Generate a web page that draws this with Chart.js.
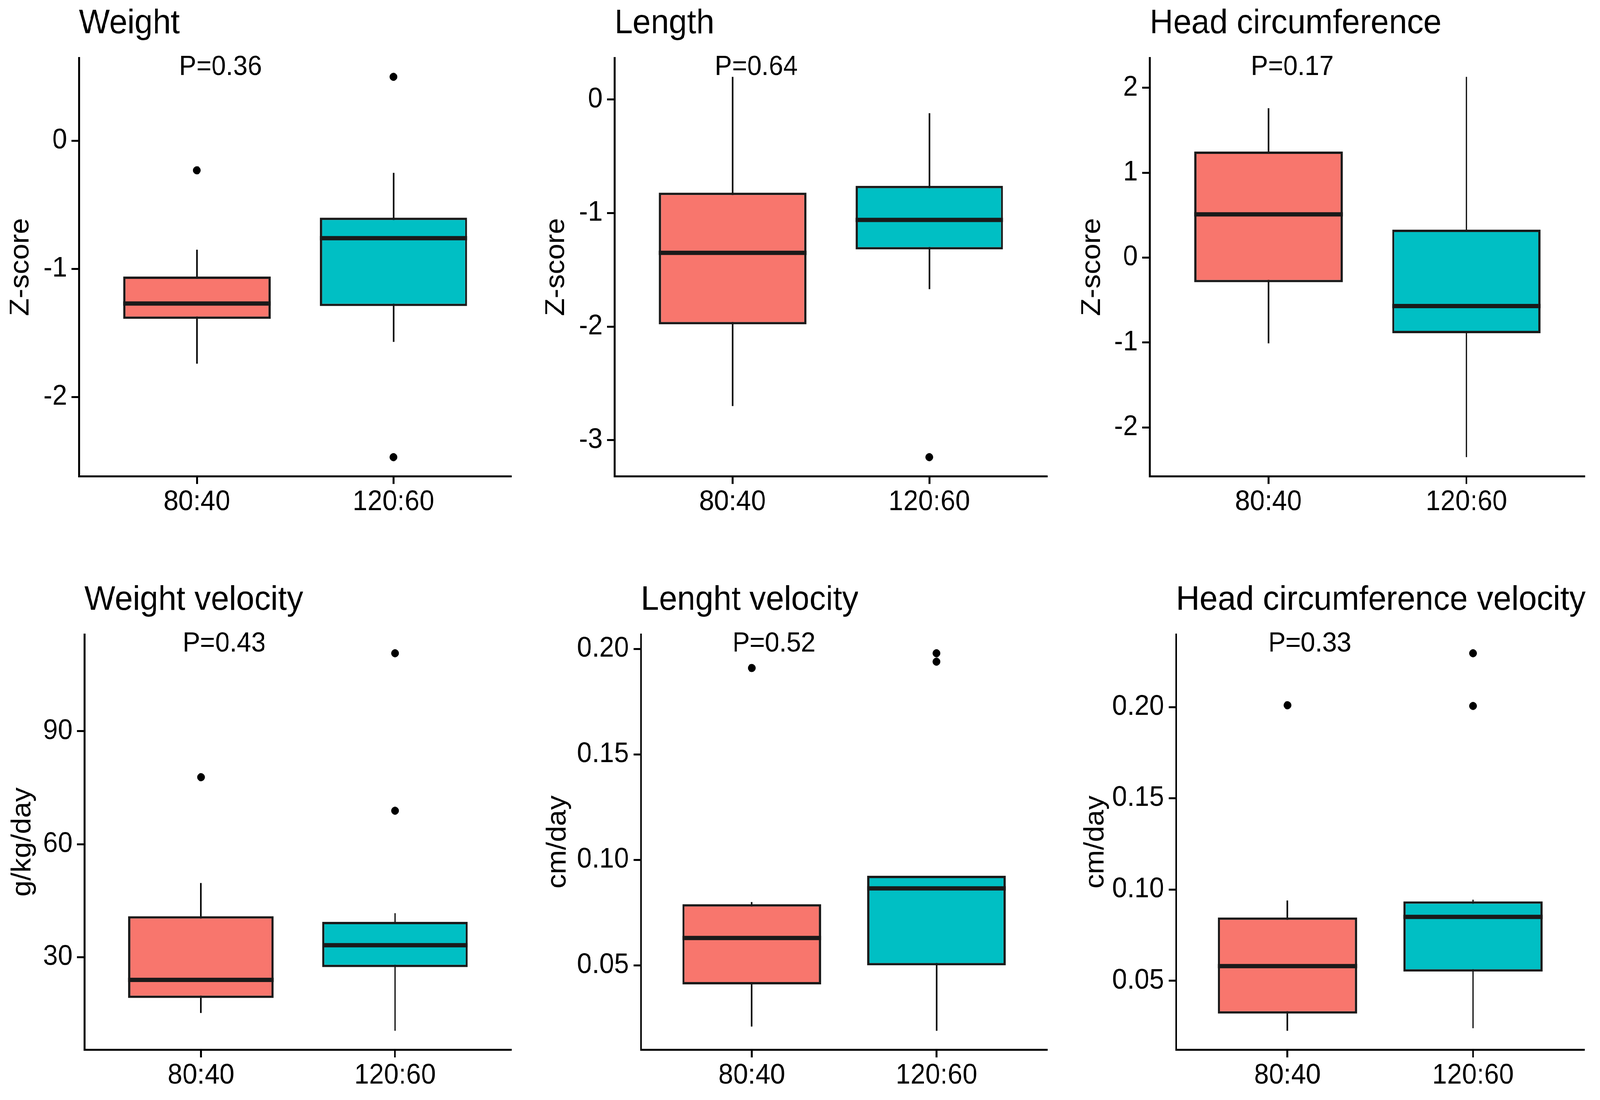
<!DOCTYPE html>
<html>
<head>
<meta charset="utf-8">
<script src="https://cdn.jsdelivr.net/npm/chart.js@4.4.1/dist/chart.umd.min.js"></script>
<style>
  html, body { margin: 0; padding: 0; background: #fff; overflow: hidden; }
  #page { position: absolute; left: 0; top: 0; width: 4317px; height: 2816px; transform-origin: 0 0; }
  canvas { position: absolute; }
</style>
</head>
<body>
<div id="page">
<canvas id="c0"></canvas>
<canvas id="c1"></canvas>
<canvas id="c2"></canvas>
<canvas id="c3"></canvas>
<canvas id="c4"></canvas>
<canvas id="c5"></canvas>
</div>
<script>
// groups on the x axis
const groups = ["80:40", "120:60"];

const titles = [
  "Weight",
  "Length",
  "Head circumference",
  "Weight velocity",
  "Lenght velocity",
  "Head circumference velocity",
];
const pLabels = ["P=0.36", "P=0.64", "P=0.17", "P=0.43", "P=0.52", "P=0.33"];
const yTitles = ["Z-score", "Z-score", "Z-score", "g/kg/day", "cm/day", "cm/day"];

// [low whisker, Q1, median, Q3, high whisker] per group
const weightBox = [[-1.74, -1.39, -1.27, -1.06, -0.85], [-1.57, -1.29, -0.76, -0.6, -0.25]];
const weightOut = [[-0.23], [0.5, -2.47]];
const weightTicks = [-2, -1, 0];

const lengthBox = [[-2.7, -1.98, -1.35, -0.82, 0.2], [-1.67, -1.32, -1.06, -0.76, -0.12]];
const lengthOut = [[], [-3.15]];
const lengthTicks = [-3, -2, -1, 0];

const headBox = [[-1.01, -0.29, 0.51, 1.25, 1.76], [-2.35, -0.89, -0.57, 0.33, 2.13]];
const headOut = [[], []];
const headTicks = [-2, -1, 0, 1, 2];

const weightVelBox = [[15.2, 19.2, 24.0, 40.9, 49.7], [10.5, 27.4, 33.2, 39.4, 41.7]];
const weightVelOut = [[77.8], [110.7, 68.9]];
const weightVelTicks = [30, 60, 90];

const lengthVelBox = [[0.021, 0.041, 0.063, 0.079, 0.08], [0.019, 0.05, 0.0865, 0.0925, 0.0925]];
const lengthVelOut = [[0.191], [0.198, 0.194]];
const lengthVelTicks = [0.05, 0.1, 0.15, 0.2];

const headVelBox = [[0.0226, 0.032, 0.058, 0.0847, 0.094], [0.024, 0.055, 0.085, 0.0935, 0.0944]];
const headVelOut = [[0.201], [0.2295, 0.2006]];
const headVelTicks = [0.05, 0.1, 0.15, 0.2];

const fills = ["#F8766D", "#00BFC4"];

// canvas placement (page pixels) and fixed y-axis width
const panelPos = [
  { left: 12, top: 0, width: 1379, height: 1339, yw: 201, padTop: 148 },
  { left: 1457, top: 0, width: 1380, height: 1339, yw: 201, padTop: 148 },
  { left: 2903, top: 0, width: 1374, height: 1339, yw: 199, padTop: 148 },
  { left: 17, top: 1400, width: 1374, height: 1407, yw: 211, padTop: 224 },
  { left: 1461, top: 1400, width: 1376, height: 1407, yw: 268, padTop: 224 },
  { left: 2912, top: 1400, width: 1374, height: 1407, yw: 261, padTop: 224 },
];

// stretch the 4317x2816 page over whatever viewport we actually get
let fitPage = () => {
  const sx = window.innerWidth / 4317 || 1;
  const sy = window.innerHeight / 2816 || 1;
  document.getElementById("page").style.transform = "scale(" + sx + "," + sy + ")";
};
fitPage();

Chart.defaults.font.family = '"Liberation Sans", Arial, sans-serif';
Chart.defaults.color = "#000";

// panel title (top left) and p-value text
const panelText = {
  id: "panelText",
  afterDraw(chart, args, opts) {
    const { ctx, chartArea, scales } = chart;
    ctx.save();
    ctx.fillStyle = "#000";
    ctx.textBaseline = "alphabetic";
    ctx.font = '88px "Liberation Sans", Arial, sans-serif';
    ctx.textAlign = "left";
    ctx.fillText(opts.title, chartArea.left, chartArea.top - 63);
    ctx.font = '70px "Liberation Sans", Arial, sans-serif';
    ctx.textAlign = "center";
    ctx.fillText(opts.p, scales.x.getPixelForValue(1.12), chartArea.top + 44);
    ctx.restore();
  },
};

const axisStyle = {
  grid: {
    display: true,
    drawOnChartArea: false,
    drawTicks: true,
    tickLength: 20,
    tickWidth: 5,
    tickColor: "#000",
    offset: false,
  },
  border: { display: true, color: "#000", width: 5 },
};

let boxPanel = (idx, box, out, ticks, digits) => {
  const pos = panelPos[idx];
  const canvas = document.getElementById("c" + idx);
  canvas.width = pos.width;
  canvas.height = pos.height;
  canvas.style.left = pos.left + "px";
  canvas.style.top = pos.top + "px";

  const half = 0.375;
  const boxes = [], whiskers = [], medians = [], points = [];
  box.forEach((b, i) => {
    const x = i + 1;
    boxes.push({ x: x, y: [b[1], b[3]] });
    whiskers.push({ x: x, y: b[0] }, { x: x, y: b[4] }, { x: x + 0.5, y: null });
    medians.push({ x: x - half, y: b[2] }, { x: x + half, y: b[2] }, { x: x + 0.5, y: null });
    out[i].forEach((v) => points.push({ x: x, y: v }));
  });

  // ggplot style 5% expansion of the data range
  const all = box.flat().concat(out.flat());
  const lo = Math.min(...all);
  const hi = Math.max(...all);
  const pad = (hi - lo) * 0.05;

  new Chart(canvas, {
    type: "bar",
    data: {
      datasets: [
        {
          type: "line",
          data: medians,
          borderColor: "#1a1a1a",
          borderWidth: 11,
          pointRadius: 0,
          spanGaps: false,
          order: 0,
        },
        {
          type: "scatter",
          data: points,
          backgroundColor: "#000",
          borderColor: "#000",
          pointRadius: 10,
          order: 1,
        },
        {
          type: "bar",
          data: boxes,
          backgroundColor: fills,
          borderColor: "#1a1a1a",
          borderWidth: 6,
          borderSkipped: false,
          barPercentage: 0.75,
          categoryPercentage: 1,
          order: 2,
        },
        {
          type: "line",
          data: whiskers,
          borderColor: "#000",
          borderWidth: 4,
          pointRadius: 0,
          spanGaps: false,
          order: 3,
        },
      ],
    },
    options: {
      responsive: false,
      animation: false,
      devicePixelRatio: 1,
      layout: { padding: { top: pos.padTop, left: 0, right: 0, bottom: 0 } },
      plugins: {
        legend: { display: false },
        tooltip: { enabled: false },
        panelText: { title: titles[idx], p: pLabels[idx] },
      },
      scales: {
        x: {
          type: "linear",
          min: 0.4,
          max: 2.6,
          offset: false,
          afterBuildTicks: (ax) => {
            ax.ticks = groups.map((g, i) => ({ value: i + 1 }));
          },
          afterFit: (ax) => {
            ax.height = 120;
          },
          ticks: {
            callback: (v) => groups[v - 1],
            font: { size: 72 },
            color: "#000",
            padding: 4,
            maxRotation: 0,
            autoSkip: false,
          },
          ...axisStyle,
        },
        y: {
          type: "linear",
          min: lo - pad,
          max: hi + pad,
          beginAtZero: false,
          afterBuildTicks: (ax) => {
            ax.ticks = ticks.map((v) => ({ value: v }));
          },
          afterFit: (ax) => {
            ax.width = pos.yw;
          },
          ticks: {
            callback: (v) => v.toFixed(digits),
            font: { size: 72 },
            color: "#000",
            padding: 12,
          },
          title: {
            display: true,
            text: yTitles[idx],
            font: { size: 74 },
            color: "#000",
            padding: 0,
          },
          ...axisStyle,
        },
      },
    },
    plugins: [panelText],
  });
};

boxPanel(0, weightBox, weightOut, weightTicks, 0);
boxPanel(1, lengthBox, lengthOut, lengthTicks, 0);
boxPanel(2, headBox, headOut, headTicks, 0);
boxPanel(3, weightVelBox, weightVelOut, weightVelTicks, 0);
boxPanel(4, lengthVelBox, lengthVelOut, lengthVelTicks, 2);
boxPanel(5, headVelBox, headVelOut, headVelTicks, 2);
</script>
</body>
</html>
